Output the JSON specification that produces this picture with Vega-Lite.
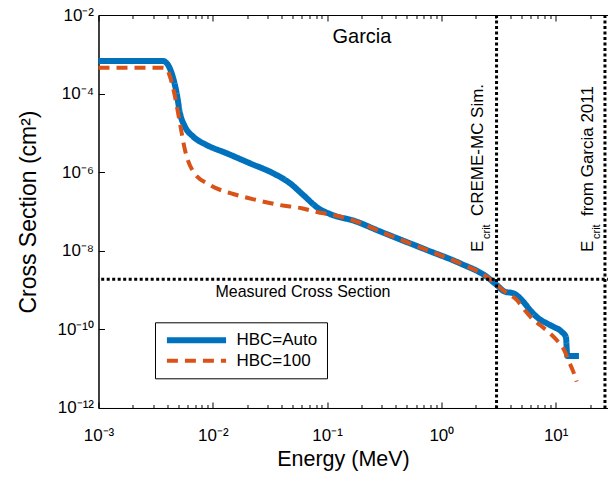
{
  "$schema": "https://vega.github.io/schema/vega-lite/v6.json",
  "width": 511.7,
  "height": 393,
  "autosize": {"type": "none"},
  "padding": {"left": 98.5, "top": 15, "right": 0, "bottom": 73},
  "config": {
    "font": "Liberation Sans",
    "view": {"stroke": "black", "strokeWidth": 1},
    "axis": {"grid": false, "domainColor": "black", "tickColor": "black", "labelColor": "black", "titleColor": "black", "labelFont": "Liberation Sans", "titleFont": "Liberation Sans", "titleFontWeight": "normal", "labelFontSize": 17, "titleFontSize": 21.5}
  },
  "datasets": {
    "curves": [
      {"series": "HBC=Auto", "E": 0.001, "sigma": 6.75e-4},
      {"series": "HBC=Auto", "E": 0.00367, "sigma": 6.75e-4},
      {"series": "HBC=Auto", "E": 0.0040, "sigma": 5.7e-4},
      {"series": "HBC=Auto", "E": 0.00437, "sigma": 3.28e-4},
      {"series": "HBC=Auto", "E": 0.00483, "sigma": 1.02e-4},
      {"series": "HBC=Auto", "E": 0.00516, "sigma": 3.21e-5},
      {"series": "HBC=Auto", "E": 0.00571, "sigma": 1.44e-5},
      {"series": "HBC=Auto", "E": 0.00675, "sigma": 8.0e-6},
      {"series": "HBC=Auto", "E": 0.00884, "sigma": 4.92e-6},
      {"series": "HBC=Auto", "E": 0.01323, "sigma": 3.03e-6},
      {"series": "HBC=Auto", "E": 0.0212, "sigma": 1.68e-6},
      {"series": "HBC=Auto", "E": 0.0338, "sigma": 9.38e-7},
      {"series": "HBC=Auto", "E": 0.0474, "sigma": 5.22e-7},
      {"series": "HBC=Auto", "E": 0.0619, "sigma": 2.63e-7},
      {"series": "HBC=Auto", "E": 0.0838, "sigma": 1.21e-7},
      {"series": "HBC=Auto", "E": 0.106, "sigma": 8.64e-8},
      {"series": "HBC=Auto", "E": 0.182, "sigma": 5.5e-8},
      {"series": "HBC=Auto", "E": 0.272, "sigma": 3.38e-8},
      {"series": "HBC=Auto", "E": 0.38, "sigma": 2.28e-8},
      {"series": "HBC=Auto", "E": 0.744, "sigma": 1.05e-8},
      {"series": "HBC=Auto", "E": 1.455, "sigma": 4.81e-9},
      {"series": "HBC=Auto", "E": 2.49, "sigma": 2.19e-9},
      {"series": "HBC=Auto", "E": 3.05, "sigma": 1.35e-9},
      {"series": "HBC=Auto", "E": 3.6, "sigma": 9.1e-10},
      {"series": "HBC=Auto", "E": 4.26, "sigma": 8.3e-10},
      {"series": "HBC=Auto", "E": 5.21, "sigma": 5.07e-10},
      {"series": "HBC=Auto", "E": 5.96, "sigma": 3.12e-10},
      {"series": "HBC=Auto", "E": 7.05, "sigma": 1.92e-10},
      {"series": "HBC=Auto", "E": 8.35, "sigma": 1.43e-10},
      {"series": "HBC=Auto", "E": 9.53, "sigma": 1.17e-10},
      {"series": "HBC=Auto", "E": 11.28, "sigma": 8.74e-11},
      {"series": "HBC=Auto", "E": 12.31, "sigma": 6.3e-11},
      {"series": "HBC=Auto", "E": 12.63, "sigma": 2.1e-11},
      {"series": "HBC=Auto", "E": 15.99, "sigma": 2.1e-11},
      {"series": "HBC=100", "E": 0.001, "sigma": 4.56e-4},
      {"series": "HBC=100", "E": 0.00367, "sigma": 4.56e-4},
      {"series": "HBC=100", "E": 0.004, "sigma": 4.0e-4},
      {"series": "HBC=100", "E": 0.00422, "sigma": 2.69e-4},
      {"series": "HBC=100", "E": 0.00467, "sigma": 8.34e-5},
      {"series": "HBC=100", "E": 0.00516, "sigma": 1.75e-5},
      {"series": "HBC=100", "E": 0.00571, "sigma": 3.67e-6},
      {"series": "HBC=100", "E": 0.00675, "sigma": 1.03e-6},
      {"series": "HBC=100", "E": 0.00945, "sigma": 4.72e-7},
      {"series": "HBC=100", "E": 0.0151, "sigma": 2.79e-7},
      {"series": "HBC=100", "E": 0.0242, "sigma": 1.96e-7},
      {"series": "HBC=100", "E": 0.0387, "sigma": 1.46e-7},
      {"series": "HBC=100", "E": 0.0599, "sigma": 1.21e-7},
      {"series": "HBC=100", "E": 0.0867, "sigma": 9.3e-8},
      {"series": "HBC=100", "E": 0.106, "sigma": 8.5e-8},
      {"series": "HBC=100", "E": 0.182, "sigma": 5.5e-8},
      {"series": "HBC=100", "E": 0.272, "sigma": 3.38e-8},
      {"series": "HBC=100", "E": 0.38, "sigma": 2.28e-8},
      {"series": "HBC=100", "E": 0.744, "sigma": 1.05e-8},
      {"series": "HBC=100", "E": 1.455, "sigma": 4.81e-9},
      {"series": "HBC=100", "E": 2.49, "sigma": 2.19e-9},
      {"series": "HBC=100", "E": 3.05, "sigma": 1.35e-9},
      {"series": "HBC=100", "E": 3.6, "sigma": 9.1e-10},
      {"series": "HBC=100", "E": 4.56, "sigma": 5.6e-10},
      {"series": "HBC=100", "E": 5.21, "sigma": 3.44e-10},
      {"series": "HBC=100", "E": 6.17, "sigma": 1.92e-10},
      {"series": "HBC=100", "E": 7.29, "sigma": 1.29e-10},
      {"series": "HBC=100", "E": 8.92, "sigma": 7.96e-11},
      {"series": "HBC=100", "E": 10.2, "sigma": 5.37e-11},
      {"series": "HBC=100", "E": 12.06, "sigma": 2.71e-11},
      {"series": "HBC=100", "E": 12.89, "sigma": 1.67e-11},
      {"series": "HBC=100", "E": 14.26, "sigma": 8.4e-12},
      {"series": "HBC=100", "E": 15.27, "sigma": 4.67e-12}
    ],
    "ecrit": [
      {"E": 3.04, "label": "CREME-MC Sim."},
      {"E": 27.0, "label": "from Garcia 2011"}
    ],
    "ecritLabels": [
      {"E": 2.31, "sigma": 9.32e-9, "label": "CREME-MC Sim."},
      {"E": 21.2, "sigma": 9.32e-9, "label": "from Garcia 2011"}
    ],
    "measured": [{"sigma": 1.9e-9}],
    "notes": [
      {"E": 0.202, "sigma": 2.755e-3, "label": "Garcia", "kind": "title"},
      {"E": 0.0615, "sigma": 8.95e-10, "label": "Measured Cross Section", "kind": "note"}
    ]
  },
  "layer": [
    {
      "data": {"name": "curves"},
      "mark": {"type": "line", "interpolate": "monotone", "strokeCap": "butt"},
      "encoding": {
        "x": {
          "field": "E", "type": "quantitative",
          "scale": {"type": "log", "domain": [0.001, 30], "nice": false},
          "axis": {
            "orient": "bottom",
            "title": "Energy (MeV)",
            "titleX": 244.5, "titleY": 52, "titleBaseline": "middle", "titleAnchor": "start", "titleAlign": "center",
            "values": [0.001,0.002,0.003,0.004,0.005,0.006,0.007,0.008,0.009,0.01,0.02,0.03,0.04,0.05,0.06,0.07,0.08,0.09,0.1,0.2,0.3,0.4,0.5,0.6,0.7,0.8,0.9,1,2,3,4,5,6,7,8,9,10,20],
            "labelExpr": "datum.value == 0.001 ? '10⁻³' : datum.value == 0.01 ? '10⁻²' : datum.value == 0.1 ? '10⁻¹' : datum.value == 1 ? '10⁰' : datum.value == 10 ? '10¹' : ''",
            "tickSize": {"condition": {"test": "indexof([0.001,0.01,0.1,1,10], datum.value) >= 0", "value": -6}, "value": -3.5},
            "labelPadding": 26,
            "labelFlush": false,
            "labelOverlap": false,
            "domain": true
          }
        },
        "y": {
          "field": "sigma", "type": "quantitative",
          "scale": {"type": "log", "domain": [1e-12, 1e-2], "nice": false},
          "axis": {
            "title": "Cross Section (cm²)",
            "titleFontSize": 23,
            "titleX": -70, "titleY": 196.5, "titleBaseline": "middle", "titleAlign": "center", "titleAngle": -90,
            "values": [1e-12, 1e-10, 1e-8, 1e-6, 1e-4, 1e-2],
            "labelExpr": "datum.value == 1e-2 ? '10⁻²' : datum.value == 1e-4 ? '10⁻⁴' : datum.value == 1e-6 ? '10⁻⁶' : datum.value == 1e-8 ? '10⁻⁸' : datum.value == 1e-10 ? '10⁻¹⁰' : '10⁻¹²'",
            "tickSize": -6,
            "labelPadding": 11,
            "labelFlush": false,
            "labelOverlap": false
          }
        },
        "color": {
          "field": "series", "type": "nominal",
          "scale": {"domain": ["HBC=Auto", "HBC=100"], "range": ["#0072BD", "#D95319"]},
          "legend": {
            "title": null,
            "orient": "none",
            "legendX": 56.5, "legendY": 307.3,
            "strokeColor": "black",
            "fillColor": "white",
            "padding": 9,
            "labelFontSize": 17,
            "labelColor": "black",
            "labelFont": "Liberation Sans",
            "symbolSize": 140,
            "symbolOffset": 23.5,
            "labelOffset": 31,
            "rowPadding": -1,
            "cornerRadius": 0,
            "encode": {
              "symbols": {"update": {"shape": {"value": "M-5,0H5"}, "strokeWidth": {"signal": "datum.value == 'HBC=Auto' ? 6 : 4"}}}
            }
          }
        },
        "strokeDash": {
          "field": "series", "type": "nominal",
          "scale": {"domain": ["HBC=Auto", "HBC=100"], "range": [[1, 0], [11, 7]]},
          "legend": null
        },
        "strokeWidth": {
          "field": "series", "type": "nominal",
          "scale": {"domain": ["HBC=Auto", "HBC=100"], "range": [6, 4]},
          "legend": null
        }
      }
    },
    {
      "data": {"name": "measured"},
      "mark": {"type": "rule", "color": "black", "strokeWidth": 3, "strokeDash": [3, 2.5]},
      "encoding": {"y": {"field": "sigma", "type": "quantitative"}}
    },
    {
      "data": {"name": "ecrit"},
      "mark": {"type": "rule", "color": "black", "strokeWidth": 3, "strokeDash": [3, 2.5]},
      "encoding": {
        "x": {
          "field": "E", "type": "quantitative",
          "axis": {
            "orient": "top", "labels": false, "title": null, "domain": false,
            "values": [0.001,0.002,0.003,0.004,0.005,0.006,0.007,0.008,0.009,0.01,0.02,0.03,0.04,0.05,0.06,0.07,0.08,0.09,0.1,0.2,0.3,0.4,0.5,0.6,0.7,0.8,0.9,1,2,3,4,5,6,7,8,9,10,20],
            "tickSize": {"condition": {"test": "indexof([0.001,0.01,0.1,1,10], datum.value) >= 0", "value": -6}, "value": -3.5}
          }
        }
      }
    },
    {
      "data": {"name": "notes"},
      "transform": [{"filter": "datum.kind == 'title'"}],
      "mark": {"type": "text", "fontSize": 20, "align": "center", "baseline": "middle", "color": "black", "font": "Liberation Sans"},
      "encoding": {
        "x": {"field": "E", "type": "quantitative", "axis": null},
        "y": {"field": "sigma", "type": "quantitative"},
        "text": {"field": "label"}
      }
    },
    {
      "data": {"name": "notes"},
      "transform": [{"filter": "datum.kind == 'note'"}],
      "mark": {"type": "text", "fontSize": 16, "align": "center", "baseline": "middle", "color": "black", "font": "Liberation Sans"},
      "encoding": {
        "x": {"field": "E", "type": "quantitative", "axis": null},
        "y": {"field": "sigma", "type": "quantitative"},
        "text": {"field": "label"}
      }
    },
    {
      "data": {"name": "ecritLabels"},
      "mark": {"type": "text", "fontSize": 17, "angle": 270, "align": "left", "baseline": "alphabetic", "color": "black", "font": "Liberation Sans"},
      "encoding": {
        "x": {"field": "E", "type": "quantitative", "axis": null},
        "y": {"field": "sigma", "type": "quantitative"},
        "text": {"value": "E"}
      }
    },
    {
      "data": {"name": "ecritLabels"},
      "mark": {"type": "text", "fontSize": 11, "angle": 270, "align": "left", "baseline": "alphabetic", "dx": 13, "dy": 7, "color": "black", "font": "Liberation Sans"},
      "encoding": {
        "x": {"field": "E", "type": "quantitative", "axis": null},
        "y": {"field": "sigma", "type": "quantitative"},
        "text": {"value": "crit"}
      }
    },
    {
      "data": {"name": "ecritLabels"},
      "mark": {"type": "text", "fontSize": 17, "angle": 270, "align": "left", "baseline": "alphabetic", "dx": 36, "color": "black", "font": "Liberation Sans"},
      "encoding": {
        "x": {"field": "E", "type": "quantitative", "axis": null},
        "y": {"field": "sigma", "type": "quantitative"},
        "text": {"field": "label"}
      }
    }
  ],
  "resolve": {"axis": {"x": "independent"}}
}
